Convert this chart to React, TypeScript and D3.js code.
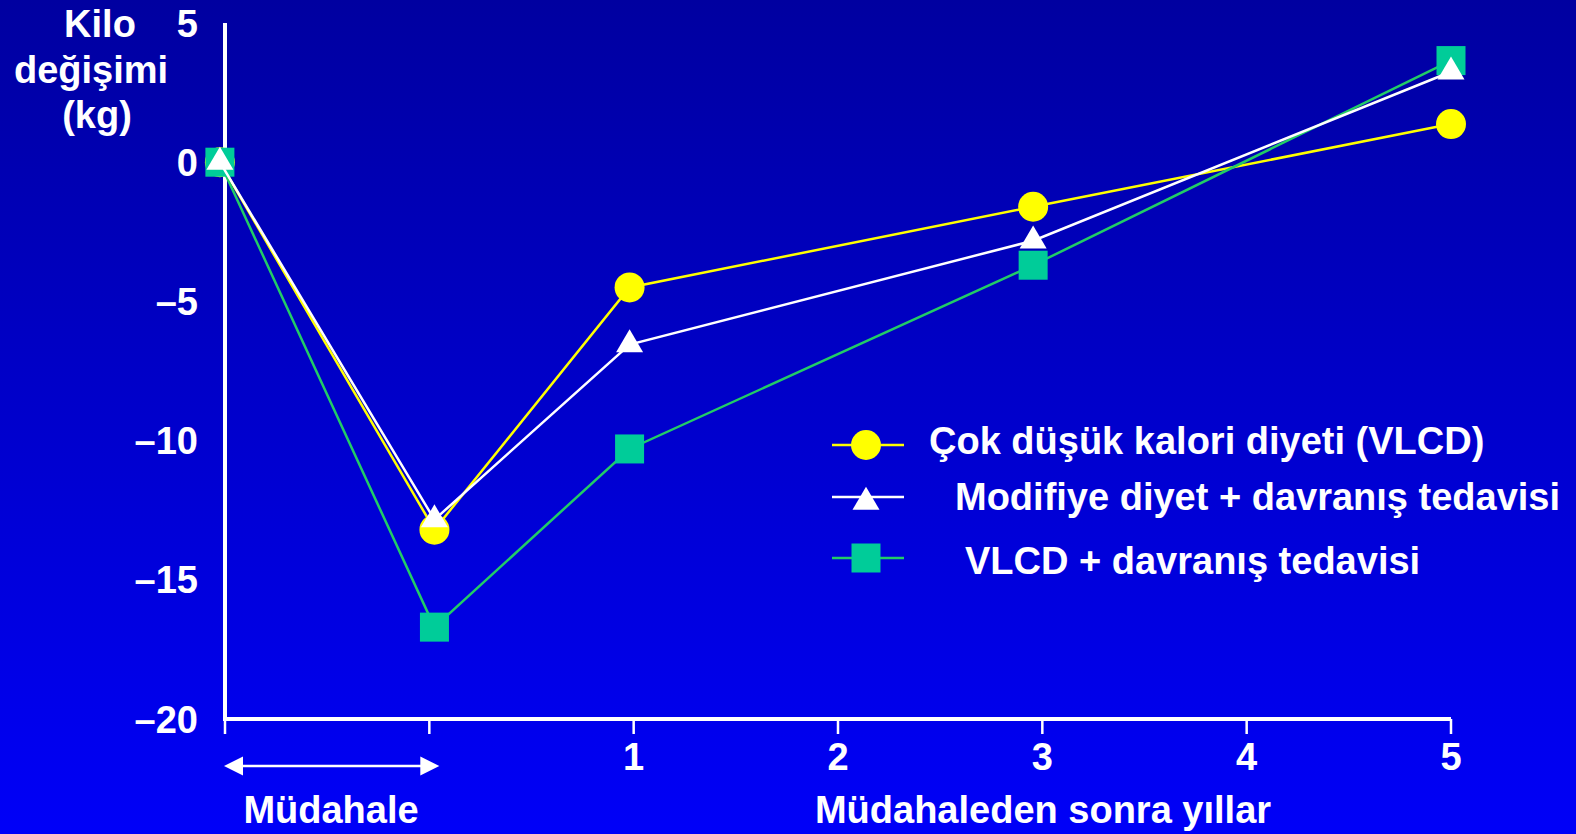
import React, { useEffect } from "react";
import * as d3 from "d3";

// ---- data ----
const xTickValues = [-1, 0, 1, 2, 3, 4, 5];
const xTickLabels = ["", "", "1", "2", "3", "4", "5"];
const yTickValues = [5, 0, -5, -10, -15, -20];
const yTickLabels = ["5", "0", "–5", "–10", "–15", "–20"];
const pointX = [-1.025, 0.025, 0.98, 2.955, 5.0];
const vlcd = [0, -13.2, -4.5, -1.6, 1.37];
const modified = [0, -12.84, -6.55, -2.82, 3.25];
const vlcdBehavior = [0, -16.7, -10.3, -3.7, 3.65];
const seriesNames = [
  "Çok düşük kalori diyeti (VLCD)",
  "Modifiye diyet + davranış tedavisi",
  "VLCD + davranış tedavisi",
];
const yTitleLines = ["Kilo", "değişimi", "(kg)"];
const interventionLabel = "Müdahale";
const yearsLabel = "Müdahaleden sonra yıllar";

const W = 1576;
const H = 834;
const FONT = "'Liberation Sans', Arial, Helvetica, sans-serif";

const x = d3.scaleLinear().domain([-1, 5]).range([225, 1451]);
const y = d3.scaleLinear().domain([-20, 5]).range([719, 23]);

const YELLOW = "#ffff00";
const WHITE = "#ffffff";
const GREEN_MARK = "#00cc99";
const GREEN_LINE = "#22cc66";

const tri = (cx: number, cy: number, w = 27, h = 23) =>
  `M${cx},${cy - (2 * h) / 3}L${cx + w / 2},${cy + h / 3}L${cx - w / 2},${cy + h / 3}Z`;

const titleX = [100, 91, 97];

export default function App() {
  useEffect(() => {
    document.body.style.margin = "0";
  }, []);
  const line = d3
    .line<number>()
    .x((_, i) => x(pointX[i]))
    .y((d) => y(d));

  const textStyle = { fontFamily: FONT, fontWeight: 700, fontSize: 38, fill: "#fff" } as const;

  return (
    <svg
      width={W}
      height={H}
      style={{ position: "absolute", left: 0, top: 0, display: "block" }}
    >
      <defs>
        <linearGradient id="bg" x1="0" y1="0" x2="0" y2="1">
          <stop offset="0%" stopColor="#0000a0" />
          <stop offset="100%" stopColor="#0000f8" />
        </linearGradient>
      </defs>
      <rect x={0} y={0} width={W} height={H} fill="url(#bg)" />

      {/* y title */}
      {yTitleLines.map((t, i) => (
        <text key={t} x={titleX[i]} y={37 + i * 45.5} textAnchor="middle" style={textStyle}>
          {t}
        </text>
      ))}

      {/* y ticks */}
      {yTickValues.map((v, i) => (
        <text key={v} x={198} y={y(v)} dy="0.36em" textAnchor="end" style={textStyle}>
          {yTickLabels[i]}
        </text>
      ))}

      {/* axes */}
      <line x1={x(-1)} x2={x(-1)} y1={y(5)} y2={y(-20) + 2} stroke="#fff" strokeWidth={4} />
      <line x1={x(-1) - 2} x2={x(5)} y1={y(-20)} y2={y(-20)} stroke="#fff" strokeWidth={4} />
      {xTickValues.map((v, i) => (
        <g key={v}>
          <line x1={x(v)} x2={x(v)} y1={y(-20)} y2={y(-20) + 15} stroke="#fff" strokeWidth={2.5} />
          {xTickLabels[i] && (
            <text x={x(v)} y={770} textAnchor="middle" style={textStyle}>
              {xTickLabels[i]}
            </text>
          )}
        </g>
      ))}

      {/* intervention arrow */}
      <g>
        <line x1={x(-1) + 15} x2={x(0) - 6} y1={766} y2={766} stroke="#fff" strokeWidth={2.5} />
        <path d={`M${x(-1) - 1},766L${x(-1) + 18},756.5L${x(-1) + 18},775.5Z`} fill="#fff" />
        <path d={`M${x(0) + 10},766L${x(0) - 9},756.5L${x(0) - 9},775.5Z`} fill="#fff" />
      </g>
      <text x={331} y={823} textAnchor="middle" style={textStyle}>
        {interventionLabel}
      </text>
      <text x={1043} y={823} textAnchor="middle" style={textStyle}>
        {yearsLabel}
      </text>

      {/* series: VLCD (yellow circles) */}
      <path d={line(vlcd) || ""} fill="none" stroke={YELLOW} strokeWidth={2.5} />
      {vlcd.map((v, i) => (
        <circle key={i} cx={x(pointX[i])} cy={y(v)} r={15} fill={YELLOW} />
      ))}

      {/* series: VLCD + behaviour (green squares) */}
      <path d={line(vlcdBehavior) || ""} fill="none" stroke={GREEN_LINE} strokeWidth={2.5} />
      {vlcdBehavior.map((v, i) => (
        <rect key={i} x={x(pointX[i]) - 14.5} y={y(v) - 14.5} width={29} height={29} fill={GREEN_MARK} />
      ))}

      {/* series: modified diet + behaviour (white triangles) */}
      <path d={line(modified) || ""} fill="none" stroke={WHITE} strokeWidth={2.5} />
      {modified.map((v, i) => (
        <path key={i} d={tri(x(pointX[i]), y(v))} fill={WHITE} />
      ))}

      {/* legend */}
      <g>
        <line x1={832} x2={904} y1={445} y2={445} stroke={YELLOW} strokeWidth={2.5} />
        <circle cx={866} cy={445} r={15} fill={YELLOW} />
        <text x={929} y={454} style={textStyle}>{seriesNames[0]}</text>

        <line x1={832} x2={904} y1={497} y2={497} stroke={WHITE} strokeWidth={2.5} />
        <path d={tri(866, 502)} fill={WHITE} />
        <text x={955} y={510} style={textStyle}>{seriesNames[1]}</text>

        <line x1={832} x2={904} y1={558} y2={558} stroke={GREEN_LINE} strokeWidth={2.5} />
        <rect x={866 - 14.5} y={558 - 14.5} width={29} height={29} fill={GREEN_MARK} />
        <text x={965} y={574} style={textStyle}>{seriesNames[2]}</text>
      </g>
    </svg>
  );
}
